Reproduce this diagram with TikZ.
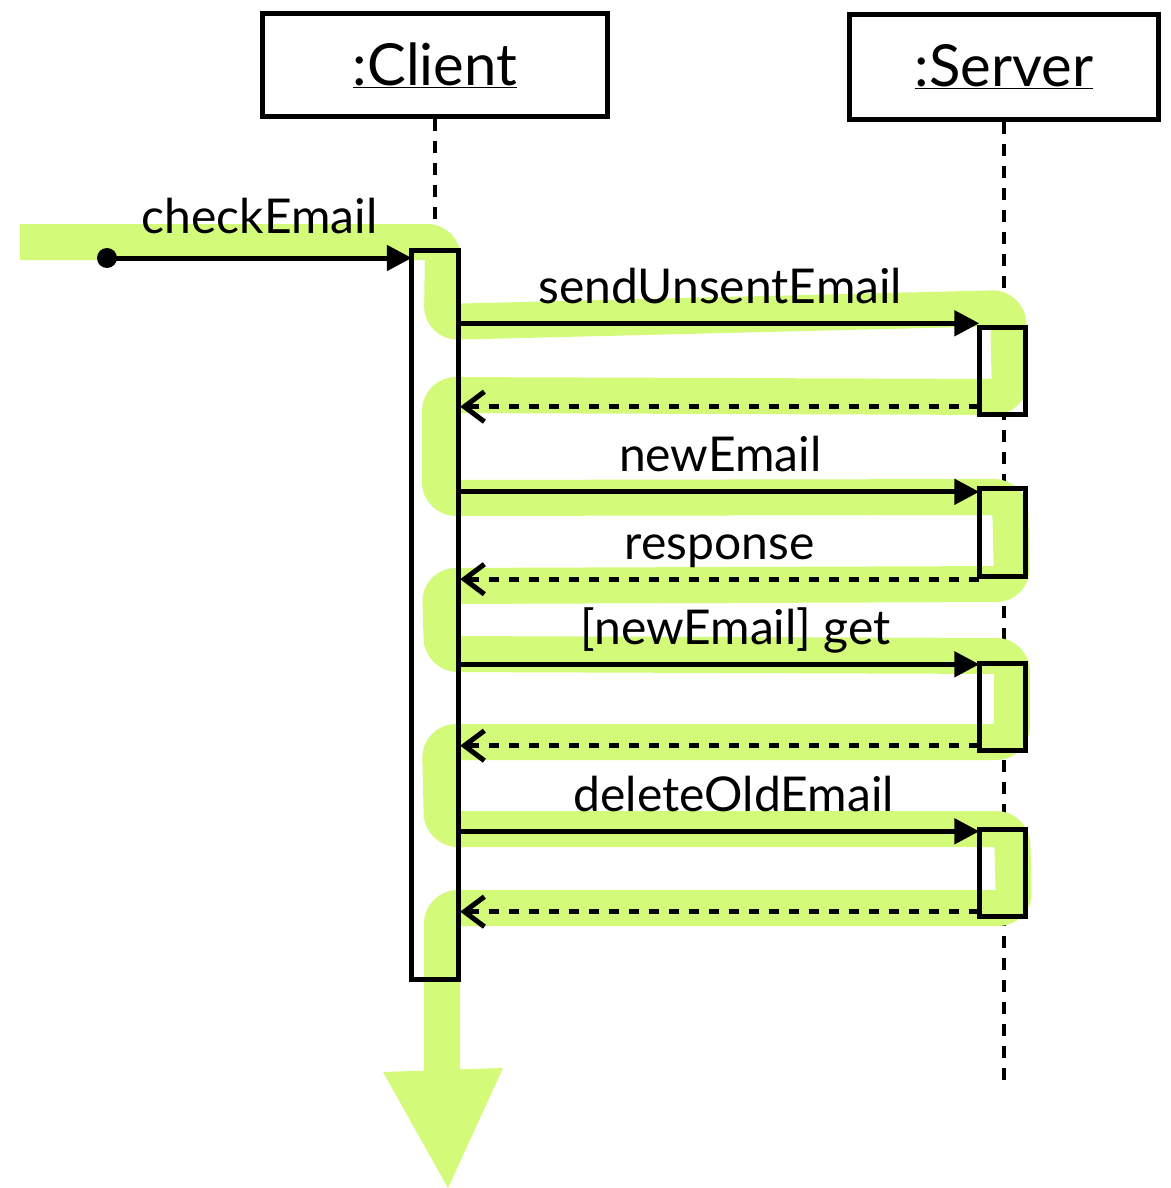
\documentclass[tikz,border=0pt]{standalone}
\usepackage{fontspec}
\setmainfont{Lato}
\usetikzlibrary{arrows.meta, positioning}
\definecolor{hilite}{RGB}{212,250,122}

\begin{document}
\begin{tikzpicture}[x=1pt, y=-1pt,
	every node/.style={font=\fontsize{48}{58}\selectfont},
	object/.style={draw, line width=5pt, minimum width=345pt, minimum height=103pt, font=\fontsize{58}{70}\selectfont},
	lifeline/.style={line width=4.5pt, dash pattern=on 12pt off 10pt},
	actbar/.style={fill=white, minimum width=46pt, inner sep=0pt},
	msg/.style={line width=5pt, -{Triangle[length=25pt,width=25pt]}},
	reply/.style={line width=5pt, dash pattern=on 10pt off 10pt, -{Straight Barb[length=20pt,width=30pt]}},
	lbl/.style={anchor=base, yshift=20pt},
	dot/.style={circle, fill, minimum size=20pt, inner sep=0pt}]
	\useasboundingbox (0,0) rectangle (1170,1188);
	% objects and lifelines
	\node[object] (client) at (435,65) {\raisebox{-3pt}{\underline{:Client}}};
	\node[object, minimum width=309pt, minimum height=105pt] (server) at (1004,67) {\raisebox{-3pt}{\underline{:Server}}};
	\coordinate (cend) at (client.south |- 0,1085);
	\coordinate (send) at (server.south |- 0,1085);
	\draw[lifeline] (client.south) -- (cend);
	\draw[lifeline] (server.south) -- (send);
	% activation bars
	\node[actbar, minimum height=729pt] (cbar) at (435,615) {};
	\node[actbar, minimum height=87pt] (s1) at (1002.5,371) {};
	\node[actbar, minimum height=87pt] (s2) at (1002.5,532.5) {};
	\node[actbar, minimum height=87pt] (s3) at (1002.5,707) {};
	\node[actbar, minimum height=87pt] (s4) at (1002.5,873) {};
	% highlight
	\draw[hilite, line width=36pt, rounded corners=16pt] (20,242) -- (443,242) -- (442,322)
		-- (1008,308) -- (1010,397) -- (440,395) -- (440,498) -- (1010,497)
		-- (1012,584) -- (440,586) -- (442,654) -- (1012,656) -- (1012,742)
		-- (440,742) -- (442,829) -- (1012,829) -- (1014,908) -- (442,908) -- (442,1075);
	\fill[hilite] (383,1072) -- (503,1068) -- (448,1188) -- cycle;
	\foreach \b in {cbar,s1,s2,s3,s4}
		\draw[line width=5pt] (\b.north west) rectangle (\b.south east);
	% messages
	\node[dot] (init) at (107,258) {};
	\coordinate (m1) at ([yshift=4pt]s1.north west);
	\coordinate (r1) at ([yshift=8pt]s1.south west);
	\coordinate (m2) at ([yshift=-3pt]s2.north west);
	\coordinate (r2) at ([yshift=-3pt]s2.south west);
	\coordinate (m3) at ([yshift=-1pt]s3.north west);
	\coordinate (r3) at ([yshift=5pt]s3.south west);
	\coordinate (m4) at ([yshift=-2pt]s4.north west);
	\coordinate (r4) at ([yshift=5pt]s4.south west);
	\draw[msg] (init.center) -- node[lbl, yshift=5pt] {checkEmail} (cbar.west |- init);
	\draw[msg] ([xshift=3pt]cbar.east |- m1) -- node[lbl] {sendUnsentEmail} (m1);
	\draw[reply] (r1) -- ([xshift=2pt]cbar.east |- r1);
	\draw[msg] ([xshift=3pt]cbar.east |- m2) -- node[lbl] {newEmail} (m2);
	\draw[reply] (r2) -- node[lbl] {response} ([xshift=2pt]cbar.east |- r2);
	\draw[msg] (cbar.east |- m3) -- node[lbl, xshift=17pt] {[newEmail] get} (m3);
	\draw[reply] (r3) -- ([xshift=2pt]cbar.east |- r3);
	\draw[msg] (cbar.east |- m4) -- node[lbl, xshift=15pt] {deleteOldEmail} (m4);
	\draw[reply] (r4) -- ([xshift=2pt]cbar.east |- r4);
\end{tikzpicture}
\end{document}
